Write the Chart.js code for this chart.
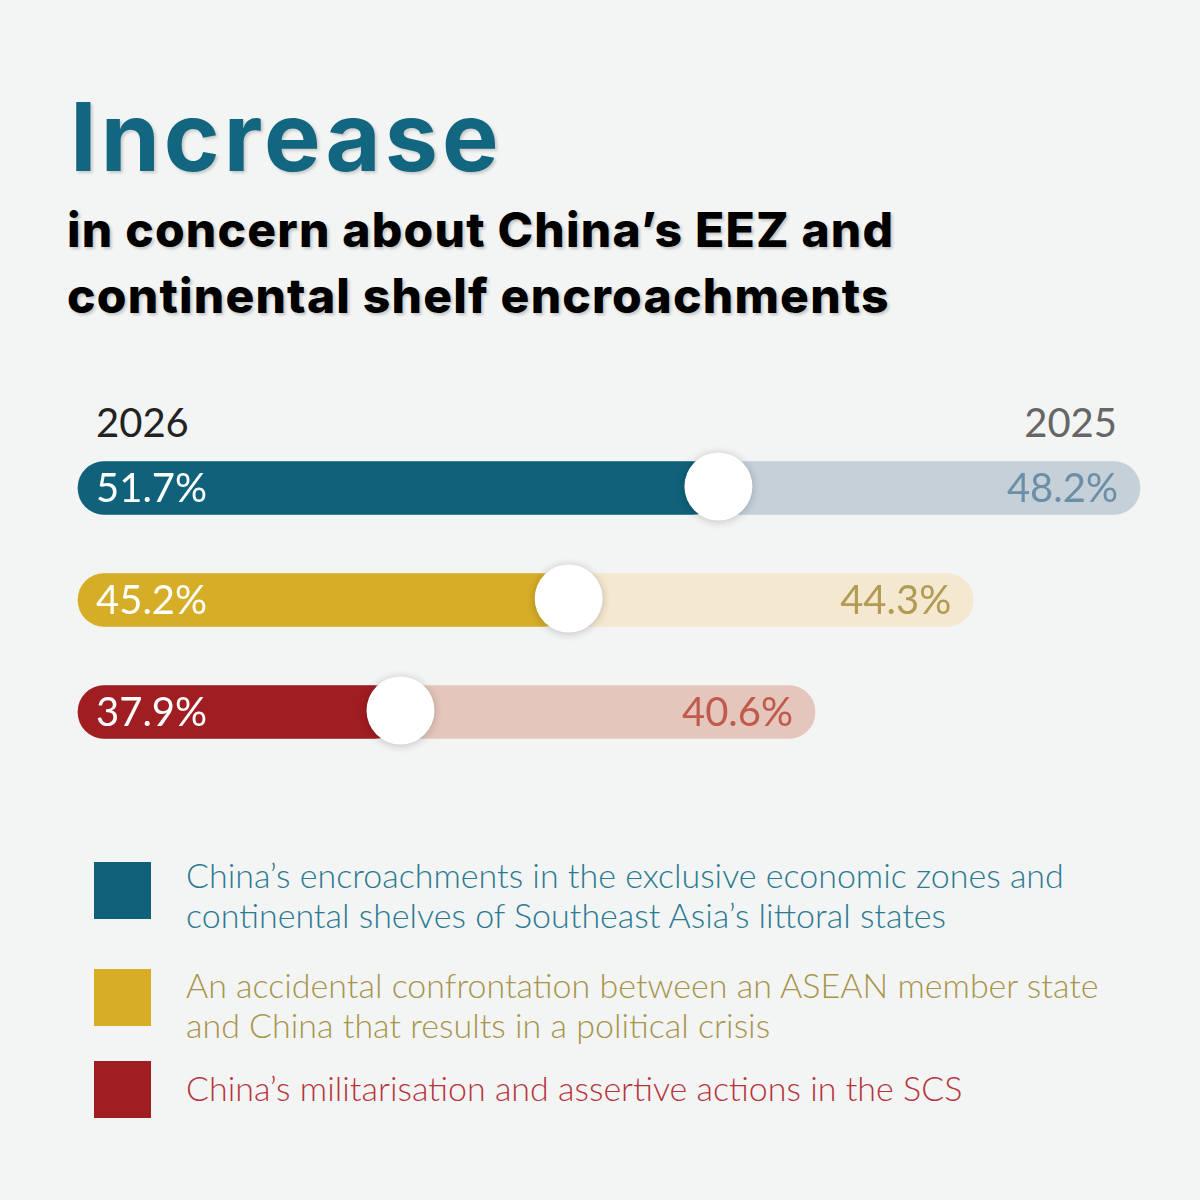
<!DOCTYPE html>
<html>
<head>
<meta charset="utf-8">
<script src="https://cdn.jsdelivr.net/npm/chart.js@4.4.1/dist/chart.umd.min.js"></script>
<style>
  html, body { margin:0; padding:0; width:1200px; height:1200px; background:#f3f4f4; overflow:hidden; }
  .abs { position:absolute; white-space:nowrap; }
  #title { left:70px; top:89px; font-family:Inter, sans-serif; font-weight:700; font-size:95px; line-height:1; color:#12667f; text-shadow:2px 2px 3px rgba(0,0,0,0.18); letter-spacing:4px; }
  #subtitle { left:67px; top:197px; font-family:Inter, sans-serif; font-weight:800; font-size:48px; line-height:66px; color:#000; text-shadow:2px 2px 3px rgba(0,0,0,0.2); letter-spacing:1.2px; }
  .year { top:402px; font-family:Lato, sans-serif; font-size:40px; line-height:1; }
  #chartWrap { position:absolute; left:0; top:432px; width:1200px; height:336px; }
  .legSq { position:absolute; left:94px; width:57px; height:57px; }
  .legTx { position:absolute; left:186px; width:930px; font-family:Lato, sans-serif; font-weight:300; font-size:34px; line-height:40px; white-space:normal; }
</style>
</head>
<body>
<div id="title" class="abs"></div>
<div id="subtitle" class="abs"></div>
<div id="y1" class="abs year" style="left:96px;color:#222;"></div>
<div id="y2" class="abs year" style="right:83px;color:#666;"></div>
<div id="chartWrap"><canvas id="c"></canvas></div>
<div id="legend"></div>
<script>
// ---- data ----
const titleText = "Increase";
const subtitleLines = ["in concern about China’s EEZ and", "continental shelf encroachments"];
const yearLabels = ["2026", "2025"];
const categories = [
  "China’s encroachments in the exclusive economic zones and continental shelves of Southeast Asia’s littoral states",
  "An accidental confrontation between an ASEAN member state and China that results in a political crisis",
  "China’s militarisation and assertive actions in the SCS"
];
const values2026 = [51.7, 45.2, 37.9];
const values2025 = [48.2, 44.3, 40.6];

// ---- scale ranges (the original graphic uses separate, non-zero-based scales) ----
const range2026 = [23.9, 70.0];
const range2025 = [23.36, 48.2];

// ---- styles ----
const darkColors  = ["#0f627a", "#d6ad27", "#a01d21"];
const lightColors = ["#c5d0d9", "#f4e8d0", "#e5c6bc"];
const lightText   = ["#6b8fa6", "#b29c55", "#c05a4c"];
const legendText  = ["#2b7a92", "#a8954a", "#b8343b"];

document.getElementById('title').textContent = titleText;
document.getElementById('subtitle').innerHTML = subtitleLines.join('<br>');
document.getElementById('y1').textContent = yearLabels[0];
document.getElementById('y2').textContent = yearLabels[1];

const legTops = [855, 965, 1068];
const sqTops = [862, 969, 1061];
const leg = document.getElementById('legend');
categories.forEach((c, i) => {
  const sq = document.createElement('div');
  sq.className = 'legSq'; sq.style.top = sqTops[i] + 'px'; sq.style.background = darkColors[i];
  leg.appendChild(sq);
  const tx = document.createElement('div');
  tx.className = 'legTx'; tx.style.top = legTops[i] + 'px'; tx.style.color = legendText[i];
  tx.textContent = c;
  leg.appendChild(tx);
});

const labelPlugin = {
  id: 'labels',
  afterDatasetsDraw(chart) {
    const ctx = chart.ctx;
    const dark = chart.getDatasetMeta(0).data;
    const light = chart.getDatasetMeta(1).data;
    ctx.save();
    dark.forEach((b) => {
      ctx.save();
      ctx.shadowColor = 'rgba(0,0,0,0.22)';
      ctx.shadowBlur = 8;
      ctx.shadowOffsetY = 1;
      ctx.beginPath();
      ctx.arc(b.x, b.y - 1.5, 34, 0, Math.PI * 2);
      ctx.fillStyle = '#ffffff';
      ctx.fill();
      ctx.restore();
    });
    ctx.font = '40px Lato, sans-serif';
    ctx.textBaseline = 'middle';
    dark.forEach((b, i) => {
      ctx.fillStyle = '#ffffff';
      ctx.textAlign = 'left';
      ctx.fillText(values2026[i].toFixed(1) + '%', chart.chartArea.left + 18, b.y + 1);
    });
    light.forEach((b, i) => {
      ctx.fillStyle = lightText[i];
      ctx.textAlign = 'right';
      ctx.fillText(values2025[i].toFixed(1) + '%', b.x - 22, b.y + 1);
    });
    ctx.restore();
  }
};

new Chart(document.getElementById('c'), {
  type: 'bar',
  data: {
    labels: categories,
    datasets: [
      { label: yearLabels[0], data: values2026, xAxisID: 'x', base: range2026[0], backgroundColor: darkColors,
        borderRadius: 27, borderSkipped: false, barThickness: 53, grouped: false, clip: false },
      { label: yearLabels[1], data: values2025, xAxisID: 'x2', base: range2025[0], backgroundColor: lightColors,
        borderRadius: 27, borderSkipped: false, barThickness: 53, grouped: false, clip: false }
    ]
  },
  options: {
    indexAxis: 'y',
    responsive: true,
    maintainAspectRatio: false,
    animation: false,
    layout: { padding: { left: 78, right: 60, top: 0, bottom: 0 } },
    plugins: { legend: { display: false }, tooltip: { enabled: false } },
    scales: {
      x:  { type: 'linear', display: false, min: range2026[0], max: range2026[1] },
      x2: { type: 'linear', display: false, min: range2025[0], max: range2025[1] },
      y:  { type: 'category', display: false }
    }
  },
  plugins: [labelPlugin]
});
</script>
</body>
</html>
